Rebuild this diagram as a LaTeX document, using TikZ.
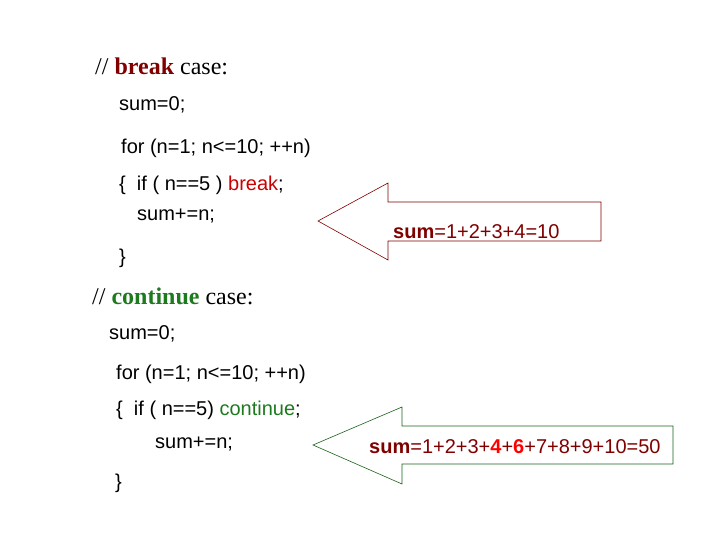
\documentclass[tikz,border=0pt]{standalone}
\usepackage{fontspec}
\setmainfont{Liberation Serif}
\setsansfont{Liberation Sans}
\begin{document}
\begin{tikzpicture}[x=1pt,y=-1pt,
 code/.style={anchor=base west,inner sep=0pt,font=\sffamily\fontsize{20}{24}\selectfont},
 cmt/.style={anchor=base west,inner sep=0pt,font=\rmfamily\fontsize{24}{28}\selectfont},
 res/.style={anchor=base west,inner sep=0pt,font=\sffamily\fontsize{20}{24}\selectfont,text=dred}]
\definecolor{dred}{HTML}{800000}
\definecolor{brk}{HTML}{CC0000}
\definecolor{cnt}{HTML}{1E7A1E}
\useasboundingbox (0,0) rectangle (720,540);
\node[cmt] (c1) at (95,75) {// \textcolor{dred}{\textbf{break}} case:};
\node[code] (a1) at (119,111) {sum=0;};
\node[code] (a2) at (121,154) {for (n=1; n<=10; ++n)};
\node[code] (a3) at (119,191) {\{\ \ if ( n==5 ) \textcolor{brk}{break};};
\node[code] (a4) at (137,221) {sum+=n;};
\node[code] (a5) at (119,263) {\}};
\node[cmt] (c2) at (92,304) {// \textcolor{cnt}{\textbf{continue}} case:};
\node[code] (b1) at (109,339) {sum=0;};
\node[code] (b2) at (116,379) {for (n=1; n<=10; ++n)};
\node[code] (b3) at (116,415) {\{\ \ if ( n==5) \textcolor{cnt}{continue};};
\node[code] (b4) at (155,448) {sum+=n;};
\node[code] (b5) at (115,488) {\}};
\draw[dred,line width=0.6pt] (318,221) -- (388,183) -- (388,202) -- (601,202) -- (601,241) -- (388,241) -- (388,260) -- cycle;
\draw[cnt!80!black,line width=0.6pt] (313,445) -- (402,407) -- (402,426) -- (673,426) -- (673,464) -- (402,464) -- (402,484) -- cycle;
\node[res] (r1) at (393,238) {\textbf{sum}=1+2+3+4=10};
\node[res] (r2) at (369,453) {\textbf{sum}=1+2+3+\textcolor{red}{\textbf{4}}+\textcolor{red}{\textbf{6}}+7+8+9+10=50};
\end{tikzpicture}
\end{document}
